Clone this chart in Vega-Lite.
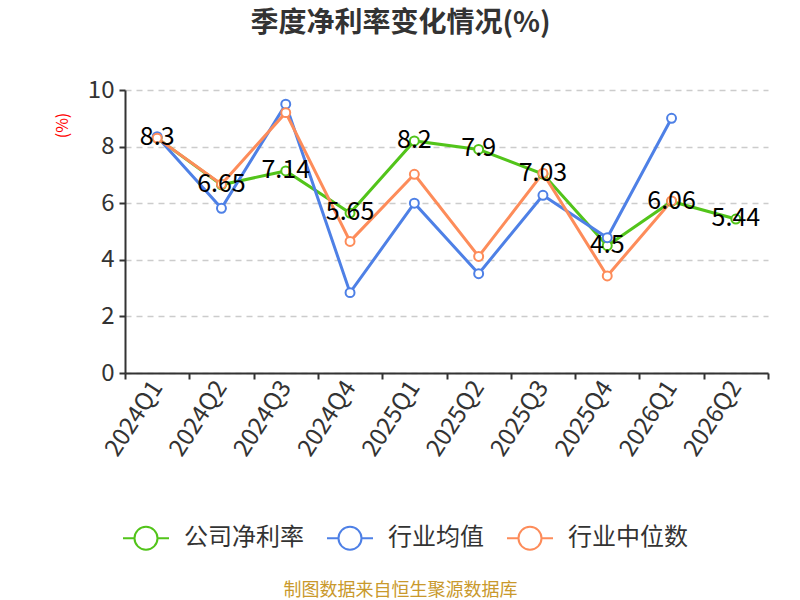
{
  "$schema": "https://vega.github.io/schema/vega-lite/v6.json",
  "autosize": "none",
  "width": 643,
  "height": 283,
  "padding": {"left": 125, "top": 90, "right": 32, "bottom": 227},
  "background": "white",
  "title": {
    "text": "季度净利率变化情况(%)",
    "anchor": "middle",
    "dx": -46,
    "offset": 40,
    "fontSize": 28,
    "fontWeight": "bold",
    "color": "#333333"
  },
  "data": {
    "values": [
      {"quarter": "2024Q1", "series": "公司净利率", "value": 8.3},
      {"quarter": "2024Q2", "series": "公司净利率", "value": 6.65},
      {"quarter": "2024Q3", "series": "公司净利率", "value": 7.14},
      {"quarter": "2024Q4", "series": "公司净利率", "value": 5.65},
      {"quarter": "2025Q1", "series": "公司净利率", "value": 8.2},
      {"quarter": "2025Q2", "series": "公司净利率", "value": 7.9},
      {"quarter": "2025Q3", "series": "公司净利率", "value": 7.03},
      {"quarter": "2025Q4", "series": "公司净利率", "value": 4.5},
      {"quarter": "2026Q1", "series": "公司净利率", "value": 6.06},
      {"quarter": "2026Q2", "series": "公司净利率", "value": 5.44},
      {"quarter": "2024Q1", "series": "行业均值", "value": 8.35},
      {"quarter": "2024Q2", "series": "行业均值", "value": 5.82},
      {"quarter": "2024Q3", "series": "行业均值", "value": 9.5},
      {"quarter": "2024Q4", "series": "行业均值", "value": 2.84},
      {"quarter": "2025Q1", "series": "行业均值", "value": 6.0},
      {"quarter": "2025Q2", "series": "行业均值", "value": 3.51},
      {"quarter": "2025Q3", "series": "行业均值", "value": 6.28},
      {"quarter": "2025Q4", "series": "行业均值", "value": 4.78},
      {"quarter": "2026Q1", "series": "行业均值", "value": 9.0},
      {"quarter": "2024Q1", "series": "行业中位数", "value": 8.3},
      {"quarter": "2024Q2", "series": "行业中位数", "value": 6.67},
      {"quarter": "2024Q3", "series": "行业中位数", "value": 9.2},
      {"quarter": "2024Q4", "series": "行业中位数", "value": 4.65},
      {"quarter": "2025Q1", "series": "行业中位数", "value": 7.02},
      {"quarter": "2025Q2", "series": "行业中位数", "value": 4.12},
      {"quarter": "2025Q3", "series": "行业中位数", "value": 7.06},
      {"quarter": "2025Q4", "series": "行业中位数", "value": 3.43},
      {"quarter": "2026Q1", "series": "行业中位数", "value": 6.08}
    ]
  },
  "encoding": {
    "x": {
      "field": "quarter",
      "type": "ordinal",
      "scale": {"type": "band", "paddingInner": 0, "paddingOuter": 0},
      "axis": {
        "title": "制图数据来自恒生聚源数据库",
        "titleColor": "#c9992c",
        "titleFontSize": 18,
        "titleFontWeight": "normal",
        "titleX": 275,
        "titleY": 217,
        "titleBaseline": "middle",
        "titleAlign": "center",
        "labelAngle": -57,
        "labelAlign": "right",
        "labelBaseline": "middle",
        "labelFontSize": 24,
        "labelColor": "#333333",
        "labelPadding": 4,
        "tickBand": "extent",
        "tickSize": 6,
        "tickColor": "#333333",
        "domainColor": "#333333",
        "domainWidth": 2,
        "tickWidth": 2
      }
    },
    "y": {
      "field": "value",
      "type": "quantitative",
      "scale": {"domain": [0, 10], "nice": false},
      "axis": {
        "values": [0, 2, 4, 6, 8, 10],
        "title": "(%)",
        "titleColor": "#ff0000",
        "titleFontSize": 16,
        "titleFontWeight": "normal",
        "titleX": -63,
        "titleY": 35,
        "titleAlign": "center",
        "titleBaseline": "middle",
        "labelFontSize": 24,
        "labelColor": "#333333",
        "labelPadding": 5,
        "tickSize": 6,
        "tickColor": "#333333",
        "tickWidth": 2,
        "domainColor": "#333333",
        "domainWidth": 2,
        "gridColor": "#cccccc",
        "gridDash": [6, 5],
        "gridWidth": 1.5
      }
    }
  },
  "layer": [
    {
      "mark": {"type": "line", "strokeWidth": 3},
      "encoding": {
        "color": {
          "field": "series",
          "type": "nominal",
          "scale": {
            "domain": ["公司净利率", "行业均值", "行业中位数"],
            "range": ["#52c41a", "#4e80e6", "#fd8c5a"]
          },
          "legend": {
            "title": null,
            "orient": "none",
            "direction": "horizontal",
            "legendX": -3,
            "legendY": 424,
            "symbolType": "M-1,0L-0.5,0M0.5,0L1,0M0.5,0A0.5,0.5 0 1,1 -0.5,0A0.5,0.5 0 1,1 0.5,0Z",
            "symbolSize": 2116,
            "symbolStrokeWidth": 2,
            "symbolFillColor": "white",
            "labelFontSize": 24,
            "labelColor": "#333333",
            "labelOffset": 14,
            "columnPadding": 19
          }
        }
      }
    },
    {
      "mark": {"type": "point", "filled": false, "fill": "white", "size": 80, "strokeWidth": 2, "opacity": 1},
      "encoding": {
        "color": {"field": "series", "type": "nominal"}
      }
    },
    {
      "transform": [{"filter": "datum.series === '公司净利率'"}],
      "mark": {"type": "text", "fontSize": 25, "color": "#000000", "baseline": "middle", "dy": -1},
      "encoding": {
        "text": {"field": "value", "type": "quantitative"}
      }
    }
  ],
  "config": {
    "font": "Noto Sans CJK SC",
    "view": {"stroke": null}
  }
}
